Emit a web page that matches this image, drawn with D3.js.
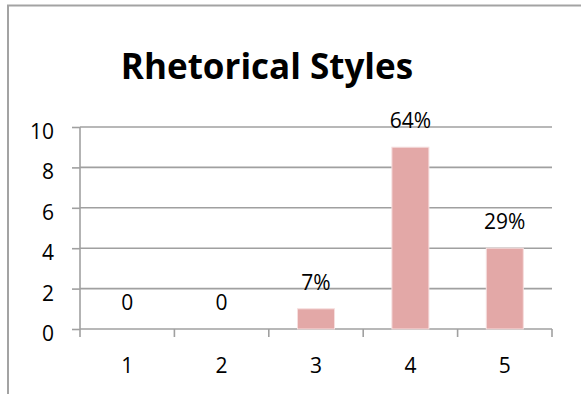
<!DOCTYPE html>
<html>
<head>
<meta charset="utf-8">
<script src="https://cdn.jsdelivr.net/npm/d3@7"></script>
<style>
  html, body { margin: 0; padding: 0; background: #fff; }
  svg { display: block; }
  text { font-family: "Open Sans", "Liberation Sans", sans-serif; fill: #000; }
</style>
</head>
<body>
<div id="chart"></div>
<script>
// Chart data
const title = "Rhetorical Styles";
const categories = ["1", "2", "3", "4", "5"];
const counts = [0, 0, 1, 9, 4];
const yTicks = [0, 2, 4, 6, 8, 10];

const W = 581, H = 394;
const svg = d3.select("#chart").append("svg")
  .attr("width", W).attr("height", H);

// Outer frame (top and left edges visible inside the window)
svg.append("path")
  .attr("d", "M8,394 V5.5 H581")
  .attr("fill", "none")
  .attr("stroke", "#a3a3a3")
  .attr("stroke-width", 2);

// Title
svg.append("text")
  .attr("x", 267)
  .attr("y", 79)
  .attr("text-anchor", "middle")
  .style("font-size", "35px")
  .style("font-weight", "bold")
  .text(title);

const plotLeft = 80, plotRight = 552, plotTop = 127, plotBottom = 329;

const x = d3.scaleBand()
  .domain(categories)
  .range([plotLeft, plotRight])
  .paddingInner(0.608)
  .paddingOuter(0.304);

const y = d3.scaleLinear().domain([0, 10]).range([plotBottom, plotTop]);

const gridColor = "#a0a0a0";

// Horizontal gridlines
svg.append("g").selectAll("line")
  .data(yTicks.filter(t => t > 0))
  .join("line")
  .attr("x1", plotLeft).attr("x2", plotRight)
  .attr("y1", d => y(d)).attr("y2", d => y(d))
  .attr("stroke", gridColor)
  .attr("stroke-width", 1.6);

// Y axis
const yAxis = svg.append("g")
  .attr("transform", `translate(${plotLeft},0)`)
  .call(d3.axisLeft(y).tickValues(yTicks).tickSize(8).tickPadding(18).tickSizeOuter(0));
yAxis.select(".domain").remove();
yAxis.selectAll(".tick line").attr("stroke", gridColor).attr("stroke-width", 1.6);
yAxis.selectAll(".tick text")
  .style("font-size", "21px")
  .attr("dy", "0.55em");
yAxis.append("line")
  .attr("x1", 0).attr("x2", 0)
  .attr("y1", plotTop).attr("y2", plotBottom + 8)
  .attr("stroke", gridColor).attr("stroke-width", 1.6);

// X axis: baseline, category boundary ticks and labels
const step = x.step();
const boundaries = d3.range(categories.length + 1).map(i => plotLeft + i * step);
const xg = svg.append("g");
xg.append("line")
  .attr("x1", plotLeft).attr("x2", plotRight)
  .attr("y1", plotBottom).attr("y2", plotBottom)
  .attr("stroke", gridColor).attr("stroke-width", 1.6);
xg.selectAll("line.tick")
  .data(boundaries.slice(1))
  .join("line")
  .attr("class", "tick")
  .attr("x1", d => d).attr("x2", d => d)
  .attr("y1", plotBottom).attr("y2", plotBottom + 8)
  .attr("stroke", gridColor).attr("stroke-width", 1.6);
xg.selectAll("text")
  .data(categories)
  .join("text")
  .attr("x", d => x(d) + x.bandwidth() / 2)
  .attr("y", 373)
  .attr("text-anchor", "middle")
  .style("font-size", "21px")
  .text(d => d);

// Bars
svg.append("g").selectAll("rect")
  .data(categories.map((c, i) => ({ c, v: counts[i] })).filter(d => d.v > 0))
  .join("rect")
  .attr("x", d => x(d.c))
  .attr("y", d => y(d.v))
  .attr("width", x.bandwidth())
  .attr("height", d => y(0) - y(d.v))
  .attr("fill", "#e3a8a7")
  .attr("stroke", "#f6dede")
  .attr("stroke-width", 1);

// Data labels: share of total, zero counts shown as plain 0
const total = d3.sum(counts);
const pct = d3.format(".0%");
svg.append("g").selectAll("text")
  .data(categories.map((c, i) => ({ c, v: counts[i] })))
  .join("text")
  .attr("x", d => x(d.c) + x.bandwidth() / 2)
  .attr("y", d => y(d.v) - 19)
  .attr("text-anchor", "middle")
  .style("font-size", "21px")
  .text(d => d.v === 0 ? "0" : pct(d.v / total));
</script>
</body>
</html>
